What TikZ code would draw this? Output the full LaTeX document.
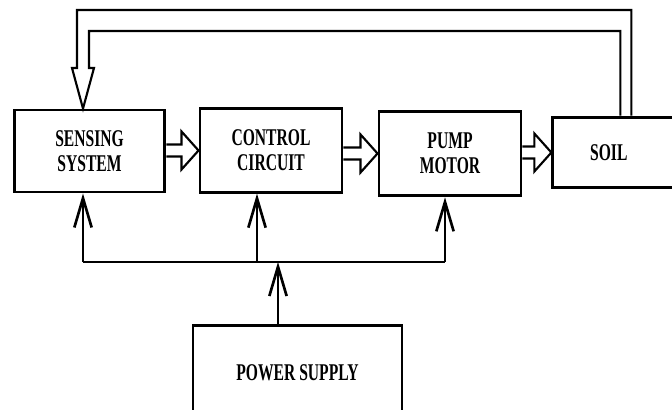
\documentclass[tikz,border=0pt]{standalone}
\usepackage{fontspec}
\usepackage{tikz}
\usetikzlibrary{calc}
\usetikzlibrary{arrows.meta}
\newfontfamily\blockfont[FakeStretch=0.65]{Liberation Serif}

% hollow double arrow from one block to the next
\newcommand{\hollowarrow}[2]{%
  \draw[fat] ($(#1.east |- #2.west)+(0,-6)$) -- ($(#2.west)+(-17,-6)$)
    -- ($(#2.west)+(-17,-19)$) -- (#2.west) -- ($(#2.west)+(-17,19)$)
    -- ($(#2.west)+(-17,6)$) -- ($(#1.east |- #2.west)+(0,6)$);}

\begin{document}
\begin{tikzpicture}[
    x=0.75pt, y=-0.75pt,
    block/.style={draw, line width=2.2pt, align=center, inner sep=0pt,
        font=\blockfont\bfseries\fontsize{18}{18.75}\selectfont},
    fat/.style={line width=1.6pt, line join=miter},
    supply/.style={line width=2pt, -{Straight Barb[length=22pt, width=13pt]}},
    bus/.style={line width=2pt}
]
    \useasboundingbox (0,0) rectangle (672,410);
    \clip (0,0) rectangle (672,410);

    % Blocks
    \node[block, minimum width=113pt, minimum height=61.5pt] (sense) at (89.5,151) {SENSING\\SYSTEM};
    \node[block, minimum width=106.5pt, minimum height=62.5pt] (ctrl) at (271,150.5) {CONTROL\\CIRCUIT};
    \node[block, minimum width=106.5pt, minimum height=63.5pt] (pump) at (450,153.5) {PUMP\\MOTOR};
    \node[block, minimum width=103pt, minimum height=53pt, text width=47pt, align=left,
          inner xsep=28pt] (soil) at (621.5,152.5) {SOIL};
    \node[block, minimum width=156.75pt, minimum height=71pt] (power) at (297.5,372.5) {POWER SUPPLY};

    % Forward path
    \hollowarrow{sense}{ctrl}
    \hollowarrow{ctrl}{pump}
    \hollowarrow{pump}{soil}

    % Feedback from soil to sensing system
    \coordinate (fb) at (83,0);
    \draw[fat] ($(soil.north west)+(69,0)$) |- (89,31) -- (89,68) -- (94,68)
        -- (fb |- sense.north) -- (72,68) -- (77,68) -- (77,10)
        -| ($(soil.north west)+(80,0)$);

    % Power distribution
    \coordinate (busL) at (83,262);
    \coordinate (busC) at (257,262);
    \coordinate (busP) at (278,262);
    \coordinate (busR) at (445,262);
    \draw[bus] (busL) -- (busR);
    \draw[supply] (busL) -- (busL |- sense.south);
    \draw[supply] (busC) -- (busC |- ctrl.south);
    \draw[supply] (busR) -- (busR |- pump.south);
    \draw[supply] (busP |- power.north) -- (busP);
\end{tikzpicture}
\end{document}
